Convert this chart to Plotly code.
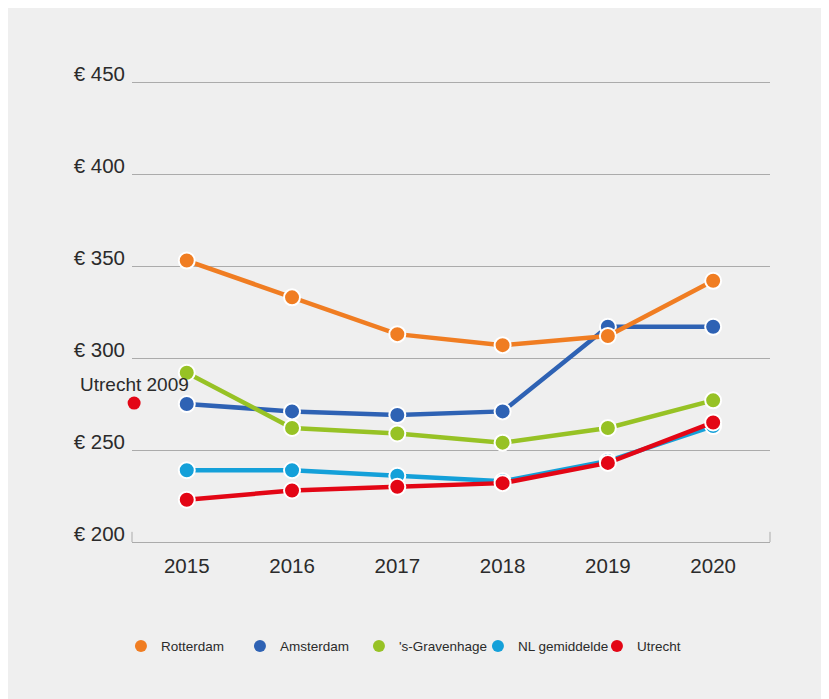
import plotly.graph_objects as go

years = [2015, 2016, 2017, 2018, 2019, 2020]
rotterdam = [353, 333, 313, 307, 312, 342]
amsterdam = [275, 271, 269, 271, 317, 317]
gravenhage = [292, 262, 259, 254, 262, 277]
nl_gemiddelde = [239, 239, 236, 233, 244, 263]
utrecht = [223, 228, 230, 232, 243, 265]

utrecht_2009_x = 2014.5
utrecht_2009_value = 275.5

y_ticks = [200, 250, 300, 350, 400, 450]
y_tick_labels = ["€ 200", "€ 250", "€ 300", "€ 350", "€ 400", "€ 450"]

series = {
    "Rotterdam": (rotterdam, "#f07d22"),
    "Amsterdam": (amsterdam, "#2e62b4"),
    "'s-Gravenhage": (gravenhage, "#97c225"),
    "NL gemiddelde": (nl_gemiddelde, "#14a0d9"),
    "Utrecht": (utrecht, "#e30615"),
}
draw_order = ["Amsterdam", "'s-Gravenhage", "Rotterdam", "NL gemiddelde", "Utrecht"]

FONT = "Liberation Sans, Arial, sans-serif"
TEXT = "#2b2b2b"
GRID = "#ababab"

fig = go.Figure()

for name in draw_order:
    values, color = series[name]
    fig.add_trace(go.Scatter(
        x=years, y=values, mode="lines+markers", name=name, showlegend=False,
        line=dict(color=color, width=4.5),
        marker=dict(color=color, size=16, line=dict(color="white", width=2)),
        cliponaxis=False,
    ))

# legend entries: plain dots
for name, (values, color) in series.items():
    fig.add_trace(go.Scatter(
        x=[None], y=[None], mode="markers", name=name,
        marker=dict(color=color, size=12),
    ))

fig.add_trace(go.Scatter(
    x=[utrecht_2009_x], y=[utrecht_2009_value], mode="markers", showlegend=False,
    marker=dict(color="#e30615", size=13), cliponaxis=False,
))
fig.add_annotation(
    x=utrecht_2009_x, y=utrecht_2009_value, text="Utrecht 2009", showarrow=False,
    yshift=19, font=dict(family=FONT, size=19, color=TEXT),
)

# small end ticks on the baseline
for xd in (0, 1):
    fig.add_shape(type="line", xref="x domain", yref="y domain",
                  x0=xd, x1=xd, y0=0, y1=0.022, line=dict(color=GRID, width=1))

fig.update_xaxes(
    range=[2014.48, 2020.54], tickvals=years, showgrid=False, zeroline=False,
    showline=True, linecolor=GRID, linewidth=1,
    tickfont=dict(family=FONT, size=20.5, color=TEXT), ticklabelstandoff=5,
)
fig.update_yaxes(
    range=[200, 450.6], tickvals=y_ticks, ticktext=y_tick_labels,
    showgrid=True, gridcolor=GRID, gridwidth=1, zeroline=False,
    tickfont=dict(family=FONT, size=20.5, color=TEXT),
    ticklabelshift=-8, ticklabelstandoff=6,
)

fig.update_layout(
    width=821, height=691,
    margin=dict(l=124, r=59, t=73, b=157),
    paper_bgcolor="#efefef", plot_bgcolor="#efefef",
    legend=dict(orientation="h", x=0.449, xanchor="center", y=-0.226, yanchor="middle",
                font=dict(family=FONT, size=13.5, color=TEXT), itemsizing="trace",
                entrywidth=74, bgcolor="rgba(0,0,0,0)"),
)

fig.write_html("out.html")
